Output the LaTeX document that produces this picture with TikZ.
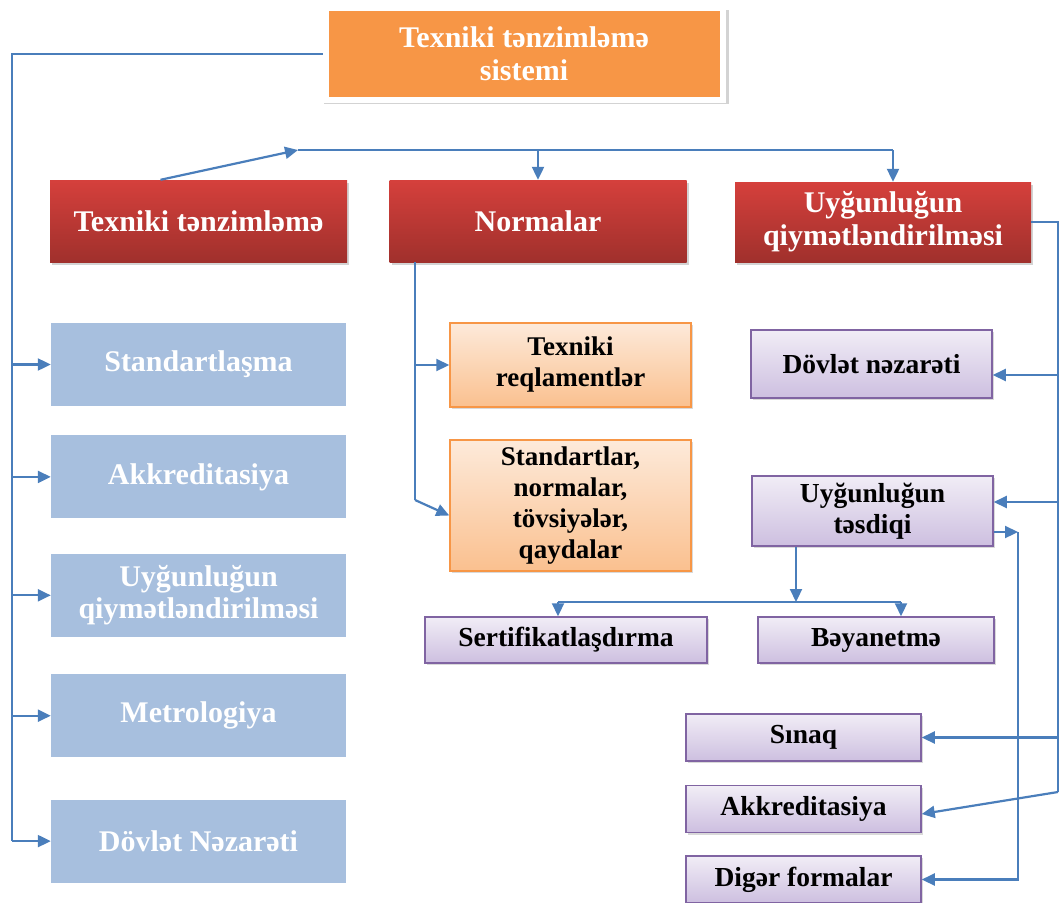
\documentclass[tikz,border=0pt]{standalone}
\usepackage{fontspec}
\setmainfont{Liberation Serif}
\usepackage{tikz}
\usetikzlibrary{arrows.meta, positioning, shadows}

\definecolor{linkblue}{HTML}{4A7EBB}
\definecolor{sysorange}{HTML}{F79646}
\definecolor{redtop}{HTML}{D5403C}
\definecolor{redbot}{HTML}{A0302C}
\definecolor{paleblue}{HTML}{A7BFDE}
\definecolor{peachtop}{HTML}{FDEADA}
\definecolor{peachbot}{HTML}{FAC08F}
\definecolor{lilactop}{HTML}{F1EDF6}
\definecolor{lilacbot}{HTML}{CDBFE0}
\definecolor{lilacline}{HTML}{8064A2}

\begin{document}
\begin{tikzpicture}[
    x=1pt, y=-1pt,
    sysbox/.style={rectangle, fill=sysorange, draw=white, line width=6pt, text=white, align=center, minimum width=397pt, minimum height=92pt, font=\fontsize{30}{33}\selectfont\bfseries, drop shadow={opacity=0.35, shadow xshift=2pt, shadow yshift=-3pt, shadow scale=1.02}},
    mainbox/.style={rectangle, top color=redtop, bottom color=redbot, text=white, align=center, minimum width=297pt, minimum height=82pt, font=\fontsize{30}{33}\selectfont\bfseries, drop shadow={opacity=0.35, shadow xshift=2pt, shadow yshift=-3pt}},
    fieldbox/.style={rectangle, fill=paleblue, text=white, align=center, minimum width=295pt, minimum height=83pt, font=\fontsize{30}{32}\selectfont\bfseries},
    docbox/.style={rectangle, top color=peachtop, bottom color=peachbot, draw=sysorange, line width=1.5pt, align=center, minimum width=241pt, font=\fontsize{27}{31}\selectfont\bfseries, drop shadow={opacity=0.3, shadow xshift=2pt, shadow yshift=-2pt}},
    formbox/.style={rectangle, top color=lilactop, bottom color=lilacbot, draw=lilacline, line width=1.5pt, align=center, font=\fontsize{27.5}{31}\selectfont\bfseries, drop shadow={opacity=0.3, shadow xshift=2pt, shadow yshift=-2pt}},
    link/.style={draw=linkblue, line width=2.2pt},
    arrow/.style={link, -{Triangle[length=13pt, width=12pt]}}
]
\useasboundingbox (0,0) rectangle (1062,902);

\node[sysbox] (sys) at (524,54) {Texniki tənzimləmə\\sistemi};

\node[mainbox] (tnz) at (198.5,221) {Texniki tənzimləmə};
\node[mainbox] (nrm) at (538,221) {Normalar};
\node[mainbox, minimum width=296pt, minimum height=80pt] (uyq) at (883,222) {Uyğunluğun\\qiymətləndirilməsi};

\node[fieldbox] (fstd) at (198.5,364.5) {Standartlaşma};
\node[fieldbox, below=29pt of fstd] (fakk) {Akkreditasiya};
\node[fieldbox, below=35pt of fakk] (fuyq) {Uyğunluğun\\qiymətləndirilməsi};
\node[fieldbox, below=37pt of fuyq] (fmet) {Metrologiya};
\node[fieldbox, below=42pt of fmet] (fdov) {Dövlət Nəzarəti};

\node[docbox, minimum height=84pt] (reg) at (570.5,365) {Texniki\\reqlamentlər};
\node[docbox, minimum height=131pt] (std) at (570.5,505.5) {Standartlar,\\normalar,\\tövsiyələr,\\qaydalar};

\node[formbox, minimum width=241pt, minimum height=68pt] (nzr) at (871.5,364) {Dövlət nəzarəti};
\node[formbox, minimum width=241pt, minimum height=70pt] (tsd) at (872.5,511) {Uyğunluğun\\təsdiqi};
\node[formbox, minimum width=282pt, minimum height=46pt] (sert) at (566,640) {Sertifikatlaşdırma};
\node[formbox, minimum width=236pt, minimum height=46pt] (bay) at (876,640) {Bəyanetmə};
\node[formbox, minimum width=235pt, minimum height=47pt] (sin) at (803.5,737.5) {Sınaq};
\node[formbox, minimum width=235pt, minimum height=47pt, below=23pt of sin] (akk) {Akkreditasiya};
\node[formbox, minimum width=235pt, minimum height=47pt, below=22pt of akk] (dig) {Digər formalar};

\coordinate (lbus) at (12,0);
\draw[link] (sys.west) -| (lbus |- fdov.west);
\foreach \n in {fstd, fakk, fuyq, fmet, fdov}
    \draw[arrow] (lbus |- \n.west) -- (\n.west);

\coordinate (tbus) at (298,150);
\draw[arrow] ([xshift=-38pt]tnz.north) -- (tbus);
\draw[link] (tbus) -- (tbus -| 893,0);
\draw[arrow] (tbus -| 893,0) -- (uyq.north -| 893,0);
\draw[arrow] (tbus -| nrm.north) -- (nrm.north);

\coordinate (nbus) at (415,500);
\draw[link] (nrm.south -| nbus) -- (nbus);
\draw[arrow] (nbus |- reg.west) -- (reg.west);
\draw[arrow] (nbus) -- ([yshift=-10pt]std.west);

\coordinate (rbus) at (1058,792);
\draw[link] (uyq.east) -| (rbus);
\draw[arrow] (rbus |- 0,375) -- ([yshift=-11pt]nzr.east);
\draw[arrow] (rbus |- 0,502) -- ([yshift=9pt]tsd.east);
\draw[arrow] (rbus |- sin.east) -- (sin.east);
\draw[arrow] (rbus) -- ([yshift=-5pt]akk.east);

\coordinate (ibus) at (1018,532);
\draw[arrow] ([yshift=-21pt]tsd.east) -- (ibus);
\draw[arrow] (ibus) |- (dig.east);

\coordinate (cbus) at (796,602);
\draw[arrow] (tsd.south -| cbus) -- (cbus);
\draw[link] (558,602) -- (901,602);
\draw[arrow] (558,602) -- (sert.north -| 558,0);
\draw[arrow] (901,602) -- (bay.north -| 901,0);
\end{tikzpicture}
\end{document}
